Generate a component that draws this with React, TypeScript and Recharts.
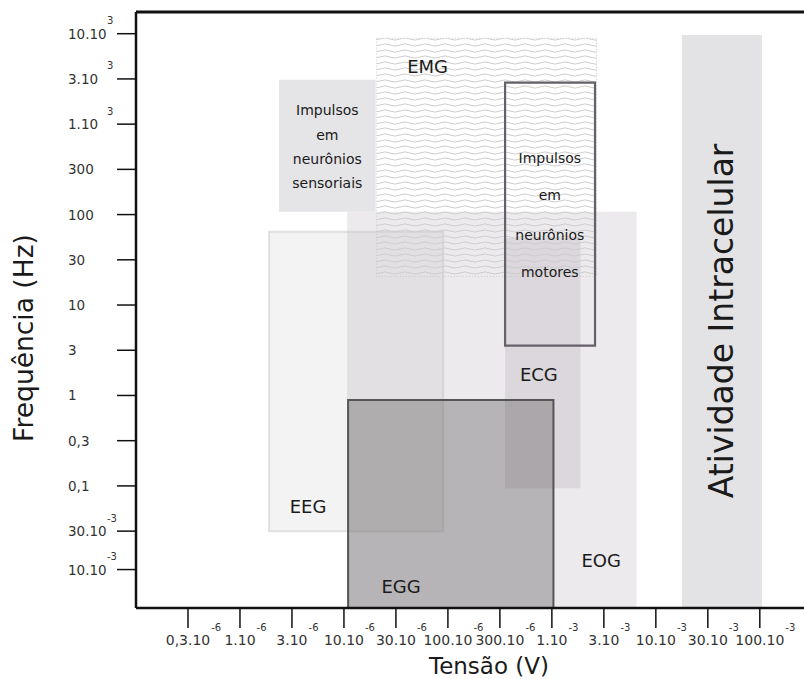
import React from 'react'
import { ComposedChart, XAxis, YAxis, ReferenceArea, ReferenceLine, Scatter } from 'recharts'

// Both axes are schematic: ticks are evenly spaced, so values live on a tick-index scale
const X_MAX = 12.85
const Y_MIN = -0.7
const Y_MAX = 12.48

const xTicks = [1, 2, 3, 4, 5, 6, 7, 8, 9, 10, 11, 12]
const xTickBase = ['0,3.10', '1.10', '3.10', '10.10', '30.10', '100.10', '300.10', '1.10', '3.10', '10.10', '30.10', '100.10']
const xTickExp = ['-6', '-6', '-6', '-6', '-6', '-6', '-6', '-3', '-3', '-3', '-3', '-3']

const yTicks = [0.15, 1, 2, 3, 4, 5, 6, 7, 8, 9, 10, 11, 12]
const yTickBase = ['10.10', '30.10', '0,1', '0,3', '1', '3', '10', '30', '100', '300', '1.10', '3.10', '10.10']
const yTickExp = ['-3', '-3', '', '', '', '', '', '', '', '', '3', '3', '3']

// regions: [x1, x2, y1, y2]
const eog = [4.06, 9.63, Y_MIN, 8.06]
const eeg = [2.56, 5.91, 1.0, 7.62]
const sensory = [2.75, 4.61, 8.06, 10.98]
const intracelular = [10.5, 12.04, Y_MIN, 11.97]
const ecg = [7.1, 8.55, 1.95, 7.48]
const egg = [4.08, 8.03, Y_MIN, 3.9]
const emg = [4.63, 8.86, 6.63, 11.9]
const motor = [7.1, 8.83, 5.1, 10.92]

const labels = [
  { x: 5.61, y: 11.13, text: 'EMG', size: 18 },
  { x: 3.31, y: 1.4, text: 'EEG', size: 18 },
  { x: 7.75, y: 4.32, text: 'ECG', size: 18 },
  { x: 8.95, y: 0.21, text: 'EOG', size: 18 },
  { x: 5.1, y: -0.37, text: 'EGG', size: 18 },
  { x: 3.68, y: 10.2, text: 'Impulsos', size: 14 },
  { x: 3.68, y: 9.65, text: 'em', size: 14 },
  { x: 3.68, y: 9.12, text: 'neurônios', size: 14 },
  { x: 3.68, y: 8.59, text: 'sensoriais', size: 14 },
  { x: 7.96, y: 9.14, text: 'Impulsos', size: 14 },
  { x: 7.96, y: 8.32, text: 'em', size: 14 },
  { x: 7.96, y: 7.44, text: 'neurônios', size: 14 },
  { x: 7.96, y: 6.62, text: 'motores', size: 14 },
  { x: 11.27, y: 5.65, text: 'Atividade Intracelular', size: 33, vertical: true },
]

const FONT = '"DejaVu Sans", Verdana, sans-serif'

function textWidth(s: string, size: number) {
  let w = 0
  for (const c of s) w += c === '.' || c === ',' ? 0.318 : 0.636
  return w * size
}

function XTick({ x, payload }: any) {
  const i = xTicks.indexOf(payload.value)
  const base = xTickBase[i]
  const w = textWidth(base, 14)
  return (
    <g fontFamily={FONT} fill="#333">
      <text x={x} y={645} textAnchor="middle" fontSize={14}>{base}</text>
      <text x={x + w / 2 + 1} y={631} fontSize={10}>{xTickExp[i]}</text>
    </g>
  )
}

function YTick({ y, payload }: any) {
  const i = yTicks.indexOf(payload.value)
  return (
    <g fontFamily={FONT} fill="#333">
      <text x={68} y={y + 5} fontSize={13.5}>{yTickBase[i]}</text>
      <text x={107} y={y - 9.5} fontSize={10}>{yTickExp[i]}</text>
    </g>
  )
}

function LabelShape({ cx, cy, payload }: any) {
  if (payload.vertical) {
    return (
      <text x={cx} y={cy} transform={`rotate(-90, ${cx}, ${cy})`} textAnchor="middle" dominantBaseline="central"
        fontSize={payload.size} fontFamily={FONT} fill="#1a1a1a">{payload.text}</text>
    )
  }
  return (
    <text x={cx} y={cy} textAnchor="middle" fontSize={payload.size} fontFamily={FONT} fill="#1a1a1a">{payload.text}</text>
  )
}

const area = (r: number[]) => ({ x1: r[0], x2: r[1], y1: r[2], y2: r[3] })

export default function App() {
  return (
    <div style={{ position: 'absolute', left: 0, top: 0 }}>
      <ComposedChart width={804} height={679} margin={{ top: 12, right: 0, bottom: 0, left: 0 }}>
        <defs>
          <pattern id="waves" width={20} height={6} patternUnits="userSpaceOnUse">
            <path d="M0 3 Q5 0.8 10 3 T20 3" fill="none" stroke="#cdcdcd" strokeWidth={1} />
          </pattern>
        </defs>
        <XAxis
          type="number"
          dataKey="x"
          domain={[0, X_MAX]}
          ticks={xTicks}
          allowDataOverflow
          height={71}
          tickSize={20}
          axisLine={{ stroke: '#111', strokeWidth: 2.5 }}
          tickLine={{ stroke: '#111', strokeWidth: 1.5 }}
          tick={<XTick />}
          label={() => (
            <text x={489} y={674} textAnchor="middle" fontSize={23} fontFamily={FONT} fill="#1a1a1a">Tensão (V)</text>
          )}
        />
        <YAxis
          type="number"
          dataKey="y"
          domain={[Y_MIN, Y_MAX]}
          ticks={yTicks}
          allowDataOverflow
          width={136}
          tickSize={19}
          axisLine={{ stroke: '#111', strokeWidth: 2.5 }}
          tickLine={{ stroke: '#111', strokeWidth: 1.5 }}
          tick={<YTick />}
          label={() => (
            <text x={33} y={338} transform="rotate(-90, 33, 338)" textAnchor="middle" fontSize={26.5} fontFamily={FONT} fill="#1a1a1a">Frequência (Hz)</text>
          )}
        />
        <ReferenceLine y={Y_MAX} stroke="#111" strokeWidth={3} ifOverflow="visible" />

        <ReferenceArea {...area(eog)} fill="#807387" fillOpacity={0.15} stroke="none" />
        <ReferenceArea {...area(eeg)} fill="#8c8c8c" fillOpacity={0.1} stroke="#c8c8c8" strokeOpacity={0.5} strokeWidth={2} />
        <ReferenceArea {...area(sensory)} fill="#e5e5e7" fillOpacity={1} stroke="none" />
        <ReferenceArea {...area(intracelular)} fill="#e3e3e5" fillOpacity={1} stroke="none" />
        <ReferenceArea {...area(ecg)} fill="#6a5a6e" fillOpacity={0.13} stroke="none" />
        <ReferenceArea {...area(egg)} fill="#4a4545" fillOpacity={0.33} stroke="#555" strokeWidth={2} />
        <ReferenceArea {...area(emg)} fill="url(#waves)" fillOpacity={1} stroke="#c8c8c8" strokeDasharray="1 2" strokeWidth={1} />
        <ReferenceArea {...area(motor)} fill="none" stroke="#66606a" strokeWidth={2.2} />

        <Scatter data={labels} dataKey="y" shape={<LabelShape />} isAnimationActive={false} />
      </ComposedChart>
    </div>
  )
}
